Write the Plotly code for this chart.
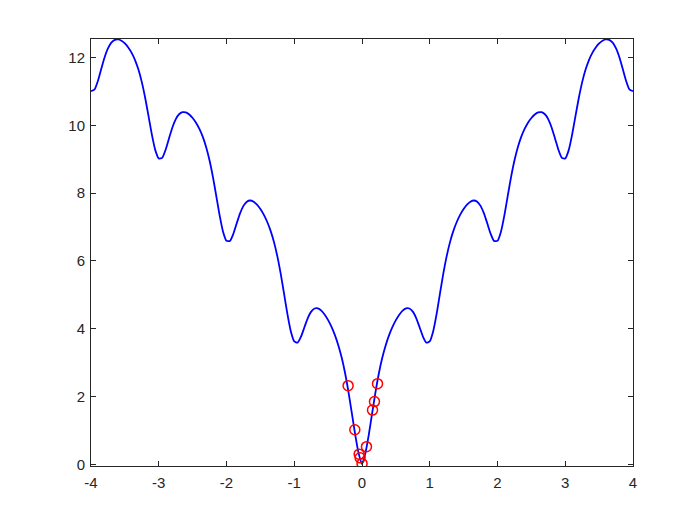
import plotly.graph_objects as go

# Curve samples (x from -4 to 4, step 0.05)
x_curve = [round(-4 + 0.05 * i, 2) for i in range(161)]
y_half = [0.000, 0.329, 0.869, 1.509, 2.140, 2.694, 3.149, 3.515, 3.811, 4.053,
          4.254, 4.415, 4.535, 4.601, 4.597, 4.504, 4.313, 4.045, 3.767, 3.591,
          3.625, 3.918, 4.422, 5.028, 5.624, 6.142, 6.563, 6.895, 7.157, 7.367,
          7.534, 7.663, 7.750, 7.784, 7.749, 7.625, 7.403, 7.104, 6.795, 6.589,
          6.594, 6.857, 7.332, 7.908, 8.475, 8.966, 9.358, 9.663, 9.897, 10.079,
          10.220, 10.322, 10.383, 10.391, 10.329, 10.179, 9.932, 9.608, 9.275, 9.043,
          9.024, 9.263, 9.714, 10.266, 10.810, 11.277, 11.647, 11.929, 12.141, 12.300,
          12.419, 12.499, 12.538, 12.525, 12.442, 12.271, 12.003, 11.658, 11.304, 11.053,
          11.013]
y_curve = y_half[::-1] + y_half[1:]

# Sample points (red circles)
x_pts = [-0.205, 0.229, 0.184, 0.155, -0.106, 0.066, -0.042, -0.028, 0.001]
y_pts = [2.32, 2.38, 1.85, 1.60, 1.02, 0.52, 0.30, 0.19, 0.02]

x_ticks = [-4, -3, -2, -1, 0, 1, 2, 3, 4]
y_ticks = [0, 2, 4, 6, 8, 10, 12]

fig = go.Figure()
fig.add_trace(go.Scatter(x=x_curve, y=y_curve, mode="lines",
                         line=dict(color="#0000ff", width=1.8, shape="spline", smoothing=0.6),
                         showlegend=False, hoverinfo="skip"))
fig.add_trace(go.Scatter(x=x_pts, y=y_pts, mode="markers",
                         marker=dict(symbol="circle-open", size=10, color="#ff0000",
                                     line=dict(width=1.5, color="#ff0000")),
                         showlegend=False))

axis_common = dict(showgrid=False, zeroline=False, showline=True, linecolor="#262626",
                   linewidth=1, mirror="ticks", ticks="inside", ticklen=5,
                   tickcolor="#262626", tickwidth=1,
                   tickfont=dict(family="Liberation Sans, Arial, sans-serif", size=15, color="#262626"))

fig.update_xaxes(range=[-4, 4], tickvals=x_ticks, ticktext=[str(v) for v in x_ticks],
                 ticklabelstandoff=3, **axis_common)
fig.update_yaxes(range=[-0.05, 12.55], tickvals=y_ticks, ticktext=[str(v) for v in y_ticks],
                 ticklabelstandoff=2, **axis_common)

fig.update_layout(width=700, height=525, margin=dict(l=83, r=75, t=31, b=67),
                  paper_bgcolor="white", plot_bgcolor="white")

fig.write_html("out.html")
